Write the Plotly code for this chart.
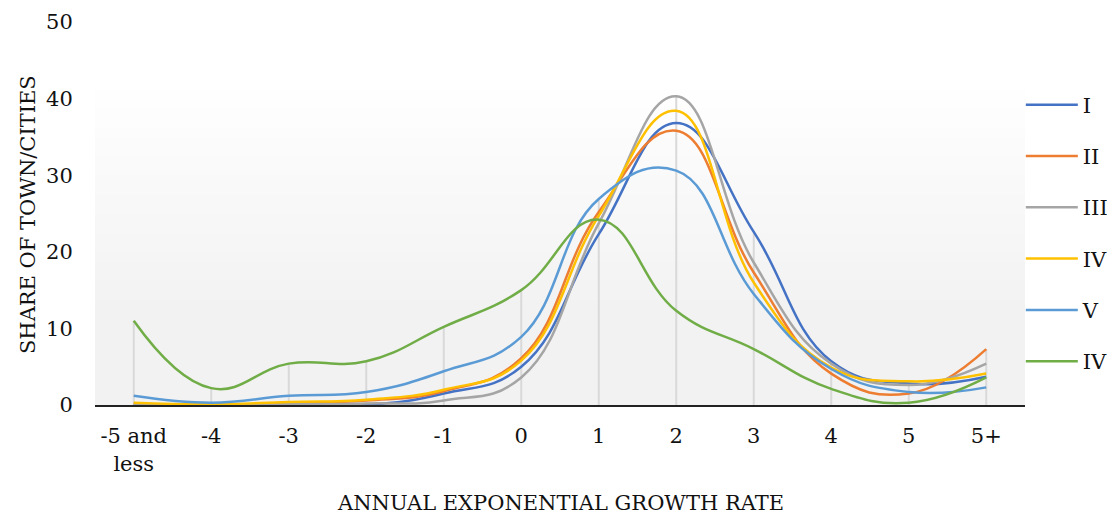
import plotly.graph_objects as go

categories = ["-5 and<br>less", "-4", "-3", "-2", "-1", "0", "1", "2", "3", "4", "5", "5+"]
series_names = ["I", "II", "III", "IV", "V", "IV"]
s_I = [0, 0, 0, 0, 1.5, 5.0, 22.3, 36.8, 22.6, 5.7, 2.8, 3.7]
s_II = [0.2, 0, 0.3, 0.6, 1.8, 6.1, 25.2, 35.8, 17.3, 4.1, 1.5, 7.3]
s_III = [0, 0, 0.1, 0.2, 0.6, 3.6, 23.7, 40.3, 18.6, 5.4, 2.6, 5.4]
s_IV = [0.3, 0.1, 0.4, 0.7, 2.0, 5.8, 24.7, 38.4, 16.0, 4.9, 3.1, 4.1]
s_V = [1.2, 0.3, 1.2, 1.7, 4.4, 8.9, 26.9, 30.6, 14.5, 4.7, 1.7, 2.3]
s_IVg = [11.0, 2.2, 5.4, 5.7, 10.2, 15.0, 24.2, 12.3, 7.3, 2.1, 0.3, 3.6]
series_values = [s_I, s_II, s_III, s_IV, s_V, s_IVg]
colors = ["#4472c4", "#ed7d31", "#a5a5a5", "#ffc000", "#5b9bd5", "#70ad47"]

FONT = "DejaVu Serif"
FS = 21
fig = go.Figure()

# drop lines from 0 up to the highest series at each category
xs, ys = [], []
for i, c in enumerate(categories):
    m = max(s[i] for s in series_values)
    xs += [c, c, None]
    ys += [0, m, None]
fig.add_trace(go.Scatter(x=xs, y=ys, mode="lines", line=dict(color="#d9d9d9", width=2),
                         showlegend=False, hoverinfo="skip"))

for k, (name, vals, col) in enumerate(zip(series_names, series_values, colors)):
    fig.add_trace(go.Scatter(x=categories, y=vals, name=name, mode="lines",
                             line=dict(color=col, width=2.5, shape="spline", smoothing=1.25),
                             legendgroup=f"g{k}"))

# gradient plot background (white top -> light gray bottom)
shapes = []
n = 40
for i in range(n):
    y0 = i / n
    y1 = (i + 1) / n
    d = 1 - (y0 + y1) / 2  # 0 at top, 1 at bottom
    t = min(1.0, max(0.0, (d - 0.15) / 0.6))
    v = int(round(255 - (255 - 242) * t))
    shapes.append(dict(type="rect", xref="paper", yref="paper", x0=0, x1=1, y0=y0, y1=y1 + 0.002,
                       fillcolor=f"rgb({v},{v},{v})", line=dict(width=0), layer="below"))

fig.update_layout(
    width=1107, height=511,
    margin=dict(l=87, r=90, t=14, b=114, autoexpand=False),
    paper_bgcolor="white", plot_bgcolor="rgba(0,0,0,0)",
    font=dict(family=FONT, size=FS, color="#111111"),
    shapes=shapes,
    showlegend=True,
    legend=dict(x=0.9955, xanchor="left", y=0.449, yanchor="middle", tracegroupgap=21,
                itemwidth=52, font=dict(family=FONT, size=FS), bgcolor="rgba(0,0,0,0)"),
    xaxis=dict(type="category", range=[-0.5, 11.5], showgrid=False, showline=True,
               linecolor="#222222", linewidth=2, ticks="outside", ticklen=11,
               tickcolor="rgba(0,0,0,0)", zeroline=False, fixedrange=True, automargin=False),
    yaxis=dict(range=[0, 50], dtick=10, showgrid=False, showline=False, zeroline=False,
               ticks="outside", ticklen=17, tickcolor="rgba(0,0,0,0)", automargin=False),
    annotations=[
        dict(text="SHARE OF TOWN/CITIES", xref="paper", yref="paper", x=-0.072, y=0.496,
             textangle=-90, showarrow=False, xanchor="center", yanchor="middle",
             font=dict(family=FONT, size=FS)),
        dict(text="ANNUAL EXPONENTIAL GROWTH RATE", xref="paper", yref="paper", x=0.5, y=-0.256,
             showarrow=False, xanchor="center", yanchor="middle",
             font=dict(family=FONT, size=FS)),
    ],
)

fig.write_html("out.html")
